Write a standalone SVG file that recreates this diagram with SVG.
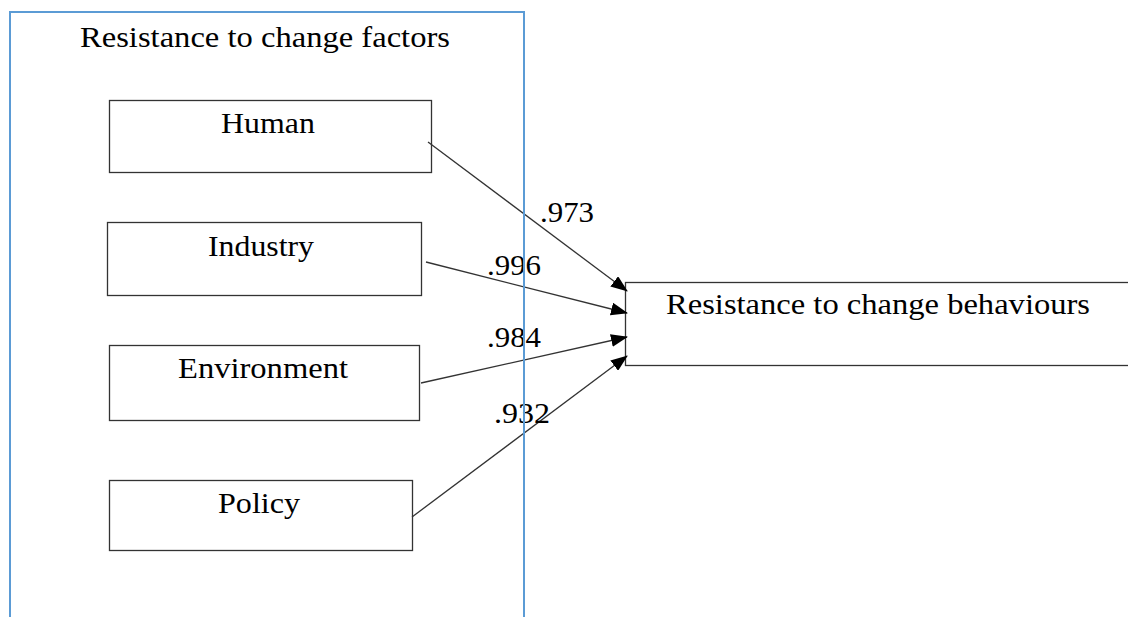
<svg xmlns="http://www.w3.org/2000/svg" width="1128" height="617" viewBox="0 0 1128 617">
<style>
.box{fill:#fff;stroke:#333;stroke-width:1.3}
.t{font-family:"Liberation Serif",serif;font-size:29px;fill:#000}
.c{stroke:#333;stroke-width:1.3;fill:none;marker-end:url(#ah)}
</style>
<defs>
<marker id="ah" markerWidth="17" markerHeight="13" refX="16" refY="6.5" orient="auto" markerUnits="userSpaceOnUse">
<path d="M0,0 L17,6.5 L0,13 z" fill="#000"/>
</marker>
</defs>
<rect width="1128" height="617" fill="#fff"/>
<text class="t" x="80" y="47" textLength="370" lengthAdjust="spacingAndGlyphs">Resistance to change factors</text>
<g id="human"><rect class="box" x="109.5" y="100.5" width="322" height="72"/><text class="t" x="221" y="133" textLength="94" lengthAdjust="spacingAndGlyphs">Human</text></g>
<g id="industry"><rect class="box" x="107.5" y="222.5" width="314" height="73"/><text class="t" x="208" y="256" textLength="106" lengthAdjust="spacingAndGlyphs">Industry</text></g>
<g id="environment"><rect class="box" x="109.5" y="345.5" width="310" height="75"/><text class="t" x="178" y="378" textLength="170" lengthAdjust="spacingAndGlyphs">Environment</text></g>
<g id="policy"><rect class="box" x="109.5" y="480.5" width="303" height="70"/><text class="t" x="218" y="513" textLength="82" lengthAdjust="spacingAndGlyphs">Policy</text></g>
<g id="behaviours"><rect class="box" x="625.5" y="282.5" width="510" height="83"/><text class="t" x="666" y="314" textLength="424" lengthAdjust="spacingAndGlyphs">Resistance to change behaviours</text></g>
<g id="connectors">
<line class="c" x1="428" y1="142" x2="627" y2="291"/>
<line class="c" x1="426" y1="262" x2="627" y2="313"/>
<line class="c" x1="421" y1="383" x2="627" y2="337"/>
<line class="c" x1="412" y1="517" x2="627" y2="356"/>
<text class="t" x="540" y="222" textLength="54" lengthAdjust="spacingAndGlyphs">.973</text>
<text class="t" x="487" y="275" textLength="54" lengthAdjust="spacingAndGlyphs">.996</text>
<text class="t" x="487" y="347" textLength="54" lengthAdjust="spacingAndGlyphs">.984</text>
<text class="t" x="494" y="423" textLength="56" lengthAdjust="spacingAndGlyphs">.932</text>
</g>
<g id="container"><rect x="10" y="12" width="514" height="620" fill="none" stroke="#5b9bd5" stroke-width="2"/></g>
</svg>
